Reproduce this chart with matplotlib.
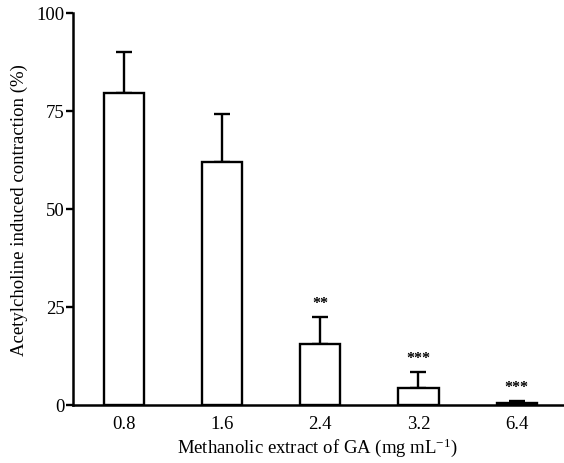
import matplotlib
matplotlib.use("Agg")
import matplotlib.pyplot as plt

categories = ["0.8", "1.6", "2.4", "3.2", "6.4"]
values = [79.6, 62.0, 15.6, 4.3, 0.6]
errors = [10.4, 12.2, 6.8, 4.1, 0.4]
stars = ["", "", "**", "***", "***"]

plt.rcParams['font.family'] = ['Liberation Serif', 'DejaVu Serif']
plt.rcParams['mathtext.fontset'] = 'custom'
plt.rcParams['mathtext.rm'] = 'Liberation Serif'
plt.rcParams['mathtext.it'] = 'Liberation Serif:italic'

fig = plt.figure(figsize=(5.64, 4.64), dpi=100)
ax = fig.add_axes([0.129, 0.125, 0.869, 0.845])
x = list(range(len(categories)))
ax.bar(x, values, width=0.41, color='white', edgecolor='black', linewidth=1.7, zorder=2)
ax.errorbar(x, values, yerr=[[0]*len(errors), errors], fmt='none', ecolor='black',
            elinewidth=1.7, capsize=6, capthick=1.7, zorder=1)
for xi, v, e, s in zip(x, values, errors, stars):
    if s:
        ax.text(xi, v + e + 1.5, s, ha='center', va='bottom', fontsize=11.5, fontweight='bold')

ax.set_xlim(-0.52, 4.47)
ax.set_ylim(0, 100)
ax.set_xticks(x)
ax.set_xticklabels(categories)
ax.set_yticks([0, 25, 50, 75, 100])
ax.tick_params(axis='x', length=0, labelsize=13.5, pad=7)
ax.tick_params(axis='y', length=5, width=1.7, labelsize=13.5, pad=1)
for s in ['top', 'right']:
    ax.spines[s].set_visible(False)
for s in ['left', 'bottom']:
    ax.spines[s].set_linewidth(1.8)
ax.set_ylabel("Acetylcholine induced contraction (%)", fontsize=13.5, labelpad=6)
ax.set_xlabel(r"Methanolic extract of GA (mg mL$^{\mathrm{-1}}$)", fontsize=13.5, labelpad=3)
fig.savefig("out.png", dpi=100)
